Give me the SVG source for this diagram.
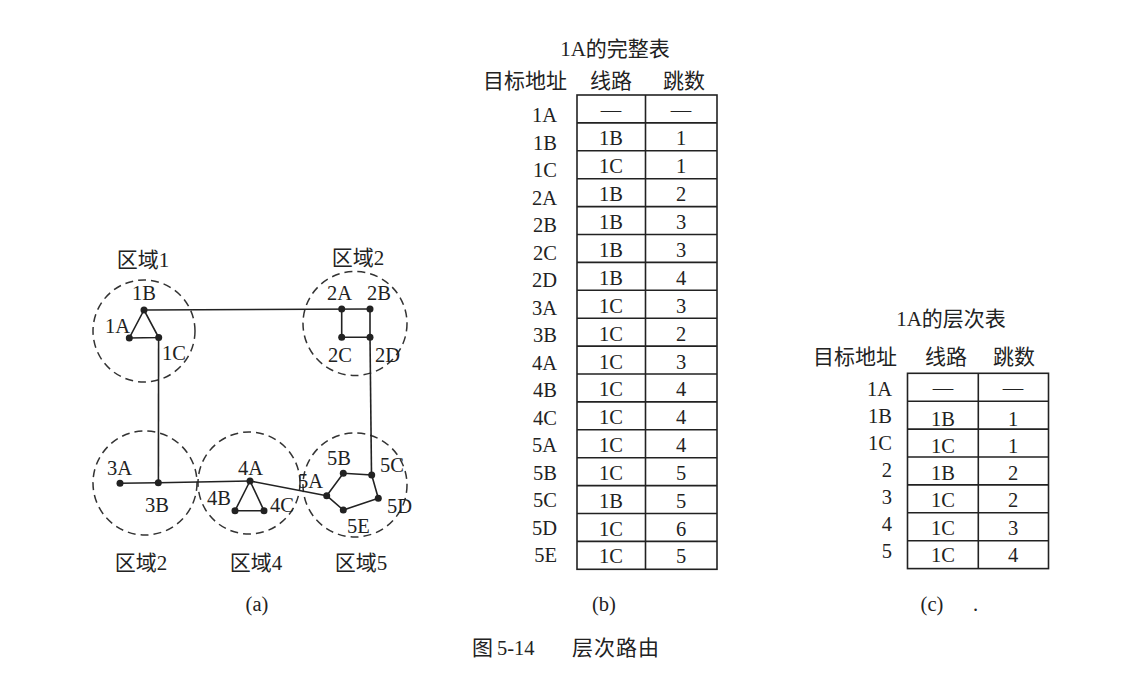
<svg xmlns="http://www.w3.org/2000/svg" width="1147" height="673" viewBox="0 0 1147 673">
<style>
.ln{stroke:#222;stroke-width:1.6;fill:none}
.rg{stroke:#333;stroke-width:1.5;fill:none;stroke-dasharray:8 5}
.dot{fill:#222}
.t{font-family:"Liberation Serif","Noto Sans CJK SC",serif;font-size:20.5px;fill:#222}
.c{font-family:"Liberation Serif","Noto Sans CJK SC",serif;font-size:21px;fill:#222}
.m{text-anchor:middle}
.e{text-anchor:end}
.grid{stroke:#222;stroke-width:1.6;fill:none}
</style>
<rect width="1147" height="673" fill="#fff"/>

<g id="regions">
<g id="region1"><circle class="rg" cx="144" cy="331" r="51"/><text class="c m" x="143" y="267">区域1</text></g>
<g id="region2top"><circle class="rg" cx="355" cy="323.5" r="52"/><text class="c m" x="358" y="265">区域2</text></g>
<g id="region3"><circle class="rg" cx="145" cy="483" r="52"/><text class="c m" x="141" y="570">区域2</text></g>
<g id="region4"><circle class="rg" cx="249" cy="483" r="51"/><text class="c m" x="256" y="570">区域4</text></g>
<g id="region5"><circle class="rg" cx="355" cy="485" r="52"/><text class="c m" x="361" y="570">区域5</text></g>
</g>

<g id="connectors">
<path class="ln" d="M144,310 L370,309"/>
<path class="ln" d="M144,310 L129.3,338 L158.7,337.5 Z"/>
<path class="ln" d="M341.7,309 L341.7,337.3 L370,337.3 L370,309"/>
<path class="ln" d="M158.6,337.5 L158.4,482.7"/>
<path class="ln" d="M370,337.3 L371.5,475"/>
<path class="ln" d="M120,483.3 L158.3,482.7 L250,481"/>
<path class="ln" d="M250,481 L235,510.7 L264,510.7 Z"/>
<path class="ln" d="M250,481 L326.7,495.7"/>
<path class="ln" d="M326.7,495.7 L343.3,473.3 L371.7,475 L378.3,498.3 L343.3,510 Z"/>
</g>

<g id="nodes">
<g id="n1A"><circle class="dot" cx="129.3" cy="338" r="3.5"/><text class="t" x="105" y="333">1A</text></g>
<g id="n1B"><circle class="dot" cx="144" cy="310" r="3.5"/><text class="t" x="132" y="300">1B</text></g>
<g id="n1C"><circle class="dot" cx="158.7" cy="337.5" r="3.5"/><text class="t" x="162" y="360">1C</text></g>
<g id="n2A"><circle class="dot" cx="341.7" cy="309" r="3.5"/><text class="t" x="327" y="300">2A</text></g>
<g id="n2B"><circle class="dot" cx="370" cy="309" r="3.5"/><text class="t" x="367" y="300">2B</text></g>
<g id="n2C"><circle class="dot" cx="341.7" cy="337.3" r="3.5"/><text class="t" x="328" y="362">2C</text></g>
<g id="n2D"><circle class="dot" cx="370" cy="337.3" r="3.5"/><text class="t" x="375" y="362">2D</text></g>
<g id="n3A"><circle class="dot" cx="120" cy="483.3" r="3.5"/><text class="t" x="107" y="475">3A</text></g>
<g id="n3B"><circle class="dot" cx="158.3" cy="482.7" r="3.5"/><text class="t" x="145" y="512">3B</text></g>
<g id="n4A"><circle class="dot" cx="250" cy="481" r="3.5"/><text class="t" x="238" y="475">4A</text></g>
<g id="n4B"><circle class="dot" cx="235" cy="510.7" r="3.5"/><text class="t" x="207" y="505">4B</text></g>
<g id="n4C"><circle class="dot" cx="264" cy="510.7" r="3.5"/><text class="t" x="270" y="512">4C</text></g>
<g id="n5A"><circle class="dot" cx="326.7" cy="495.7" r="3.5"/><text class="t" x="298" y="488">5A</text></g>
<g id="n5B"><circle class="dot" cx="343.3" cy="473.3" r="3.5"/><text class="t" x="327" y="465">5B</text></g>
<g id="n5C"><circle class="dot" cx="371.7" cy="475" r="3.5"/><text class="t" x="380" y="472">5C</text></g>
<g id="n5D"><circle class="dot" cx="378.3" cy="498.3" r="3.5"/><text class="t" x="387" y="513">5D</text></g>
<g id="n5E"><circle class="dot" cx="343.3" cy="510" r="3.5"/><text class="t" x="347" y="533">5E</text></g>
</g>
<text class="t m" x="257" y="611">(a)</text>

<g id="tableB">
<text class="c m" x="615" y="56">1A的完整表</text>
<text class="c" x="483" y="88">目标地址</text>
<text class="c" x="590" y="88">线路</text>
<text class="c" x="663" y="88">跳数</text>
<rect class="grid" x="577" y="95" width="140" height="474.3"/>
<path class="grid" d="M645.5,95 V569.3 M577,122.9 H717 M577,150.8 H717 M577,178.7 H717 M577,206.6 H717 M577,234.5 H717 M577,262.4 H717 M577,290.3 H717 M577,318.2 H717 M577,346.1 H717 M577,374 H717 M577,401.9 H717 M577,429.8 H717 M577,457.7 H717 M577,485.6 H717 M577,513.5 H717 M577,541.4 H717"/>
<g class="t e">
<text x="557" y="122">1A</text><text x="557" y="149.5">1B</text><text x="557" y="177">1C</text><text x="557" y="204.5">2A</text>
<text x="557" y="232">2B</text><text x="557" y="259.5">2C</text><text x="557" y="287">2D</text><text x="557" y="314.5">3A</text>
<text x="557" y="342">3B</text><text x="557" y="369.5">4A</text><text x="557" y="397">4B</text><text x="557" y="424.5">4C</text>
<text x="557" y="452">5A</text><text x="557" y="479.5">5B</text><text x="557" y="507">5C</text><text x="557" y="534.5">5D</text>
<text x="557" y="562">5E</text>
</g>
<g class="t m">
<text x="611" y="117">—</text><text x="681" y="117">—</text>
<text x="611" y="145">1B</text><text x="681" y="145">1</text>
<text x="611" y="173">1C</text><text x="681" y="173">1</text>
<text x="611" y="201">1B</text><text x="681" y="201">2</text>
<text x="611" y="229">1B</text><text x="681" y="229">3</text>
<text x="611" y="257">1B</text><text x="681" y="257">3</text>
<text x="611" y="284.5">1B</text><text x="681" y="284.5">4</text>
<text x="611" y="312.5">1C</text><text x="681" y="312.5">3</text>
<text x="611" y="340.5">1C</text><text x="681" y="340.5">2</text>
<text x="611" y="368.5">1C</text><text x="681" y="368.5">3</text>
<text x="611" y="396">1C</text><text x="681" y="396">4</text>
<text x="611" y="424">1C</text><text x="681" y="424">4</text>
<text x="611" y="452">1C</text><text x="681" y="452">4</text>
<text x="611" y="480">1C</text><text x="681" y="480">5</text>
<text x="611" y="508">1B</text><text x="681" y="508">5</text>
<text x="611" y="535.5">1C</text><text x="681" y="535.5">6</text>
<text x="611" y="563">1C</text><text x="681" y="563">5</text>
</g>
<text class="t m" x="604" y="611">(b)</text>
</g>

<g id="tableC">
<text class="c m" x="951" y="326">1A的层次表</text>
<text class="c" x="813" y="364">目标地址</text>
<text class="c" x="925" y="364">线路</text>
<text class="c" x="993" y="364">跳数</text>
<rect class="grid" x="907.5" y="373.3" width="141" height="195.3"/>
<path class="grid" d="M978.3,373.3 V568.6 M907.5,401.2 H1048.5 M907.5,429.1 H1048.5 M907.5,457 H1048.5 M907.5,484.9 H1048.5 M907.5,512.8 H1048.5 M907.5,540.7 H1048.5"/>
<g class="t e">
<text x="892" y="396">1A</text><text x="892" y="423">1B</text><text x="892" y="450">1C</text>
<text x="892" y="477">2</text><text x="892" y="504">3</text><text x="892" y="531">4</text><text x="892" y="558">5</text>
</g>
<g class="t m">
<text x="943" y="395">—</text><text x="1013" y="395">—</text>
<text x="943" y="426">1B</text><text x="1013" y="426">1</text>
<text x="943" y="453">1C</text><text x="1013" y="453">1</text>
<text x="943" y="480">1B</text><text x="1013" y="480">2</text>
<text x="943" y="507">1C</text><text x="1013" y="507">2</text>
<text x="943" y="535">1C</text><text x="1013" y="535">3</text>
<text x="943" y="562">1C</text><text x="1013" y="562">4</text>
</g>
<text class="t m" x="932" y="611">(c)</text>
<text class="t" x="973" y="611">.</text>
</g>

<g id="caption">
<text class="c" x="472" y="655" font-size="22">图</text>
<text class="t" x="497" y="655" font-size="21">5-14</text>
<text class="c" x="572" y="655" font-size="23" letter-spacing="1">层次路由</text>
</g>
</svg>
